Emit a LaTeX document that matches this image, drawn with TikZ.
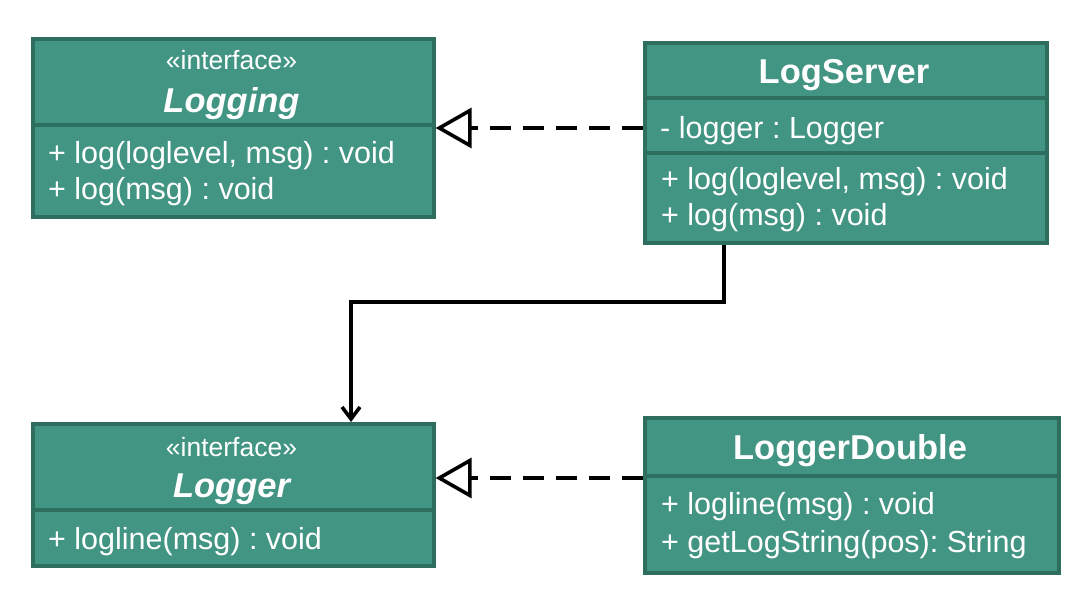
\documentclass[tikz,border=0pt]{standalone}
\usepackage{fontspec}
\setmainfont{Liberation Sans}
\usetikzlibrary{arrows.meta}
\definecolor{boxfill}{HTML}{429483}
\definecolor{boxline}{HTML}{2E6E5F}
\frenchspacing
\begin{document}
\begin{tikzpicture}[x=1pt,y=-1pt,
  umlbox/.style={draw=boxline, fill=boxfill, line width=3.6pt, rectangle, inner sep=0pt, anchor=north west},
  body/.style={font=\fontsize{30.5}{36}\selectfont, text=white, inner sep=0pt, anchor=base west},
  ttl/.style={font=\fontsize{34.5}{40}\selectfont\bfseries, text=white, inner sep=0pt, anchor=base},
  ster/.style={font=\fontsize{26.5}{30}\selectfont, text=white, inner sep=0pt, anchor=base},
  divider/.style={draw=boxline, line width=3.6pt},
  realize/.style={dash pattern=on 21pt off 12pt, line width=3.6pt, -{Triangle[open, length=36pt, width=40pt]}},
  assoc/.style={line width=3.6pt, -{Straight Barb[length=12pt, width=18pt]}}]
\useasboundingbox (0,0) rectangle (1070,610);
\fill[white] (0,0) rectangle (1070,610);

% Logging
\node[umlbox, minimum width=401pt, minimum height=178pt] (logging) at (31,37) {};
\coordinate (dA) at (0,125);
\draw[divider] (logging.west |- dA) -- (logging.east |- dA);
\node[ster] (lgst) at (231.5,70) {«interface»};
\node[ttl, font=\fontsize{34.5}{40}\selectfont\bfseries\itshape] (lgt) at (231.5,112) {Logging};
\node[body] (lgm1) at (48,163) {+ log(loglevel, msg) : void};
\node[body] (lgm2) at (48,199) {+ log(msg) : void};

% LogServer
\node[umlbox, minimum width=402pt, minimum height=200pt] (logserver) at (643,41) {};
\coordinate (dB1) at (0,98);
\coordinate (dB2) at (0,153);
\draw[divider] (logserver.west |- dB1) -- (logserver.east |- dB1);
\draw[divider] (logserver.west |- dB2) -- (logserver.east |- dB2);
\node[ttl] (lst) at (844,83) {LogServer};
\node[body] (lsa) at (660,138) {- logger : Logger};
\node[body] (lsm1) at (661,189) {+ log(loglevel, msg) : void};
\node[body] (lsm2) at (661,225) {+ log(msg) : void};

% Logger
\node[umlbox, minimum width=401pt, minimum height=142pt] (logger) at (31,422) {};
\coordinate (dC) at (0,510);
\draw[divider] (logger.west |- dC) -- (logger.east |- dC);
\node[ster] (lrst) at (231.5,456) {«interface»};
\node[ttl, font=\fontsize{34.5}{40}\selectfont\bfseries\itshape] (lrt) at (231.5,497) {Logger};
\node[body] (lrm1) at (48,549) {+ logline(msg) : void};

% LoggerDouble
\node[umlbox, minimum width=414pt, minimum height=155pt] (loggerdouble) at (643,416) {};
\coordinate (dD) at (0,476);
\draw[divider] (loggerdouble.west |- dD) -- (loggerdouble.east |- dD);
\node[ttl] (ldt) at (850,459) {LoggerDouble};
\node[body] (ldm1) at (661,514) {+ logline(msg) : void};
\node[body] (ldm2) at (661,552) {+ getLogString(pos): String};

% connectors
\coordinate (r1) at (0,128);
\draw[realize] (logserver.west |- r1) -- (logging.east |- r1);
\coordinate (r2) at (0,478);
\draw[realize] (loggerdouble.west |- r2) -- (logger.east |- r2);
\coordinate (bend) at (724,302);
\coordinate (drop) at (351,302);
\draw[assoc] (logserver.south -| bend) -- (bend) -- (drop) -- (logger.north -| drop);
\end{tikzpicture}
\end{document}
